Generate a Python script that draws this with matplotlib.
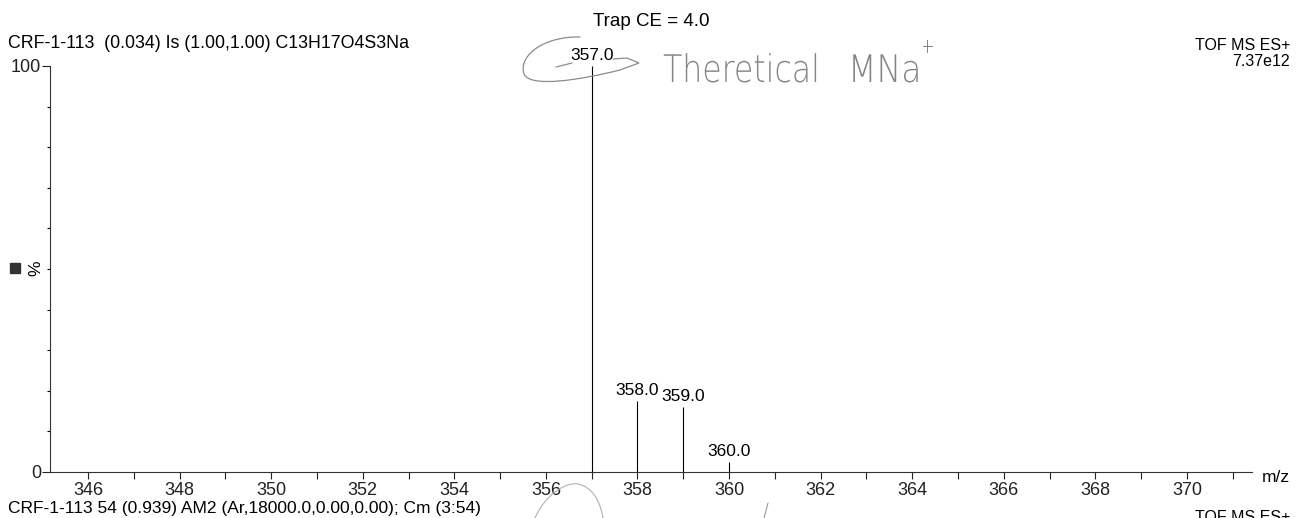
import matplotlib.pyplot as plt
from matplotlib.patches import PathPatch, Rectangle
from matplotlib.path import Path
from matplotlib.textpath import TextPath
from matplotlib.font_manager import FontProperties
from matplotlib.transforms import Affine2D, IdentityTransform

plt.rcParams['font.family'] = ['Liberation Sans', 'DejaVu Sans']

# spectrum peaks (m/z, relative intensity %)
mz = [357.0, 358.0, 359.0, 360.0]
intensity = [100.0, 17.4, 15.9, 2.5]
peak_labels = ['357.0', '358.0', '359.0', '360.0']

x_major = list(range(346, 371, 2))
x_minor = list(range(347, 372, 2))
y_major = [0, 100]
y_minor = list(range(10, 100, 10))

header_top = 'CRF-1-113  (0.034) Is (1.00,1.00) C13H17O4S3Na'
header_bottom = 'CRF-1-113 54 (0.939) AM2 (Ar,18000.0,0.00,0.00); Cm (3:54)'
title = 'Trap CE = 4.0'
mode = 'TOF MS ES+'
max_intensity = '7.37e12'

W, H = 1302, 518
fig = plt.figure(figsize=(W / 100, H / 100), dpi=100)
ax = fig.add_axes([50 / W, (H - 472) / H, 1202 / W, 406 / H])

ax.vlines(mz, 0, intensity, color='black', lw=0.8)
for x, y, s in zip(mz, intensity, peak_labels):
    ax.text(x, y + 0.8, s, ha='center', va='bottom', fontsize=12.5, clip_on=False)

ax.set_xlim(345.17, 371.42)
ax.set_ylim(0, 100)
for side in ['top', 'right']:
    ax.spines[side].set_visible(False)
for side in ['left', 'bottom']:
    ax.spines[side].set_linewidth(0.8)
    ax.spines[side].set_color('#333333')

ax.set_xticks(x_major)
ax.set_xticks(x_minor, minor=True)
ax.set_yticks(y_major)
ax.set_yticks(y_minor, minor=True)
ax.tick_params(axis='x', which='both', direction='out', length=5, width=0.8,
               pad=2, labelsize=13, colors='#222222')
ax.tick_params(axis='y', which='major', direction='out', length=6, width=0.8,
               pad=0.5, labelsize=13, colors='#222222')
ax.tick_params(axis='y', which='minor', direction='out', length=2.5, width=0.8)

# header / footer text
fig.text(0.5, 1 - 21 / H, title, ha='center', va='center', fontsize=13.5)
fig.text(8 / W, 1 - 43 / H, header_top, ha='left', va='center', fontsize=12.8)
fig.text(1290 / W, 1 - 46 / H, mode, ha='right', va='center', fontsize=11.5)
fig.text(1290 / W, 1 - 62 / H, max_intensity, ha='right', va='center', fontsize=11.5)
fig.text(8 / W, 1 - 508 / H, header_bottom, ha='left', va='center', fontsize=12.5)
fig.text(1290 / W, 1 - 510 / H, mode, ha='right', va='top', fontsize=11.5)
fig.text(1262 / W, 1 - 477 / H, 'm/z', ha='left', va='center', fontsize=12.5)
fig.text(36 / W, 1 - 268 / H, '%', ha='center', va='center', rotation=90, fontsize=12.5)
fig.add_artist(Rectangle((10 / W, 1 - 273 / H), 10 / W, 10 / H,
                         transform=fig.transFigure, color='#333333'))


def pen_path(verts, codes, color='#8c8c8c', lw=0.9):
    # verts given in image pixels (y downwards)
    pts = [(x, H - y) for x, y in verts]
    fig.add_artist(PathPatch(Path(pts, codes), facecolor='none', edgecolor=color,
                             lw=lw, transform=IdentityTransform(), capstyle='round'))


def pen_text(s, x, y, size, sx, color='#858585'):
    fp = FontProperties(family='DejaVu Sans', weight='light')
    tp = TextPath((0, 0), s, size=size, prop=fp)
    tr = Affine2D().scale(sx, 1.0).translate(x, H - y)
    fig.add_artist(PathPatch(tp, facecolor=color, edgecolor='none',
                             transform=tr + IdentityTransform()))


# pen note next to the base peak
M, L, C = Path.MOVETO, Path.LINETO, Path.CURVE4
pen_path([(556, 67), (572, 63)], [M, L])
pen_path([(613, 59), (627, 58), (639, 63), (620, 70),
          (580, 80), (530, 88), (524, 74),
          (518, 55), (545, 36), (580, 37)],
         [M, L, L, L, C, C, C, C, C, C])
pen_text('Theretical', 663, 82, 38, 0.83)
pen_text('MNa', 848, 82, 38, 0.87)
pen_text('+', 921, 53, 20, 0.8)

# pen marks near the bottom edge
pen_path([(535, 518), (545, 495), (565, 482), (578, 484),
          (592, 487), (600, 500), (603, 518)],
         [M, C, C, C, C, C, C], color='#b0b0b0', lw=0.8)
pen_path([(764, 518), (768, 503)], [M, L], color='#9a9a9a', lw=0.8)

fig.savefig('out.png', dpi=100)
